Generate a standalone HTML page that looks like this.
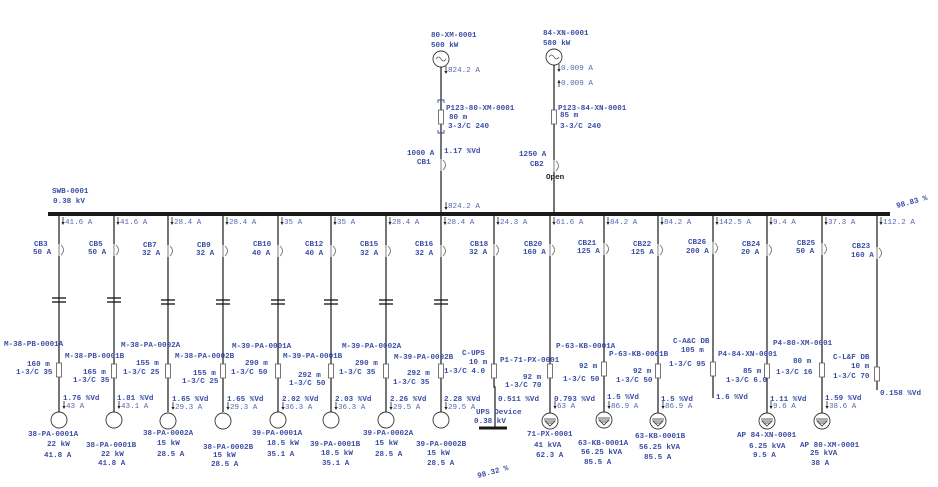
<!DOCTYPE html>
<html><head><meta charset="utf-8"><style>
body{margin:0;background:#fff}
svg{display:block}
text{font-family:"Liberation Mono",monospace;font-size:7.6px;font-weight:bold;fill:#3b4ea6}
text.i{font-weight:normal;fill:#5566b0}
text.k{fill:#222}
.l{stroke:#1a1a1a;stroke-width:1.2;fill:none}
.a{stroke:#666;stroke-width:0.8;fill:none}
.c{stroke:#333;stroke-width:0.9;fill:#fff}
</style></head><body>
<svg width="938" height="487" viewBox="0 0 938 487" xmlns="http://www.w3.org/2000/svg">
<defs>
<g id="cb"><line x1="0" y1="-6" x2="0" y2="6" stroke="#bbb" stroke-width="1.6"/><path d="M2,-5 q5,5 0,10" class="a"/></g>
<g id="ar"><line x1="0" y1="-4" x2="0" y2="3" stroke="#222" stroke-width="0.8"/><path d="M-1.6,1 L0,4 L1.6,1z" fill="#222"/></g>
<g id="ct"><line x1="-7" y1="-2" x2="7" y2="-2" stroke="#111" stroke-width="1.3"/><line x1="-7" y1="2" x2="7" y2="2" stroke="#111" stroke-width="1.3"/></g>
<g id="cab"><rect x="-2.5" y="-7" width="5" height="14" fill="#fff" stroke="#555" stroke-width="0.8"/></g>
<g id="m"><circle r="8" class="c"/></g>
<g id="ld"><circle r="8" class="c"/><line x1="-6" y1="-2" x2="6" y2="-2" stroke="#333" stroke-width="0.8"/><path d="M-5,0 L5,0 L0,5z" fill="none" stroke="#333" stroke-width="0.8"/><line x1="-3" y1="2" x2="3" y2="2" stroke="#333" stroke-width="0.8"/></g>
</defs>

<!-- bus -->
<line x1="48" y1="214" x2="890" y2="214" stroke="#1a1a1a" stroke-width="4"/>
<text x="52" y="193">SWB-0001</text><text x="53" y="203">0.38 kV</text>
<text x="897" y="208" transform="rotate(-15 897 208)">98.83 %</text>
<text x="478" y="478" transform="rotate(-15 478 478)">98.32 %</text>

<!-- gen 1 -->
<line x1="441" y1="67" x2="441" y2="214" class="l"/>
<circle cx="441" cy="59" r="8" class="c"/><path d="M436,59 q2.5,-4 5,0 q2.5,4 5,0" class="a" stroke="#333"/>
<text x="431" y="37">80-XM-0001</text><text x="431" y="47">500 kW</text>
<use href="#ar" x="446" y="70"/><text class="i" x="448" y="72">824.2 A</text>
<path d="M438,103 v-3 h6 v3 M438,130 v3 h6 v-3" stroke="#3b4ea6" stroke-width="0.9" fill="none"/>
<use href="#cab" x="441" y="117"/>
<text x="446" y="110">P123-80-XM-0001</text><text x="449" y="119">80 m</text><text x="448" y="128">3-3/C 240</text>
<text x="444" y="153">1.17 %Vd</text><text x="407" y="155">1000 A</text><text x="417" y="164">CB1</text>
<use href="#cb" x="441" y="165"/>
<use href="#ar" x="446" y="206"/><text class="i" x="448" y="208">824.2 A</text>

<!-- gen 2 -->
<line x1="554" y1="65" x2="554" y2="214" class="l"/>
<circle cx="554" cy="57" r="8" class="c"/><path d="M549,57 q2.5,-4 5,0 q2.5,4 5,0" class="a" stroke="#333"/>
<text x="543" y="35">84-XN-0001</text><text x="543" y="45">580 kW</text>
<use href="#ar" x="559" y="68"/><text class="i" x="561" y="70">0.009 A</text>
<line x1="559" y1="80" x2="559" y2="87" stroke="#222" stroke-width="0.8"/><path d="M557.4,83 L559,80 L560.6,83z" fill="#222"/><text class="i" x="561" y="85">0.009 A</text>
<use href="#cab" x="554" y="117"/>
<text x="558" y="110">P123-84-XN-0001</text><text x="560" y="117">85 m</text><text x="560" y="128">3-3/C 240</text>
<text x="519" y="156">1250 A</text><text x="530" y="166">CB2</text>
<use href="#cb" x="554" y="166"/>
<text class="k" x="546" y="179">Open</text>

<!-- feeders: lines -->
<g class="l">
<line x1="59" y1="214" x2="59" y2="412"/><line x1="114" y1="214" x2="114" y2="412"/>
<line x1="168" y1="214" x2="168" y2="412"/><line x1="223" y1="214" x2="223" y2="412"/>
<line x1="278" y1="214" x2="278" y2="412"/><line x1="331" y1="214" x2="331" y2="412"/>
<line x1="386" y1="214" x2="386" y2="412"/><line x1="441" y1="214" x2="441" y2="412"/>
<path d="M494,214 V387 H495 V428"/><line x1="550" y1="214" x2="550" y2="413"/>
<line x1="604" y1="214" x2="604" y2="413"/><line x1="658" y1="214" x2="658" y2="413"/>
<line x1="713" y1="214" x2="713" y2="398"/><line x1="767" y1="214" x2="767" y2="413"/>
<line x1="822" y1="214" x2="822" y2="413"/><line x1="877" y1="214" x2="877" y2="390"/>
</g>
<line x1="479" y1="428" x2="507" y2="428" stroke="#1a1a1a" stroke-width="3"/>

<!-- bus currents -->
<g>
<use href="#ar" x="63" y="221"/><text class="i" x="65" y="224">41.6 A</text>
<use href="#ar" x="118" y="221"/><text class="i" x="120" y="224">41.6 A</text>
<use href="#ar" x="172" y="221"/><text class="i" x="174" y="224">28.4 A</text>
<use href="#ar" x="227" y="221"/><text class="i" x="229" y="224">28.4 A</text>
<use href="#ar" x="282" y="221"/><text class="i" x="284" y="224">35 A</text>
<use href="#ar" x="335" y="221"/><text class="i" x="337" y="224">35 A</text>
<use href="#ar" x="390" y="221"/><text class="i" x="392" y="224">28.4 A</text>
<use href="#ar" x="445" y="221"/><text class="i" x="447" y="224">28.4 A</text>
<use href="#ar" x="498" y="221"/><text class="i" x="500" y="224">24.3 A</text>
<use href="#ar" x="554" y="221"/><text class="i" x="556" y="224">61.6 A</text>
<use href="#ar" x="608" y="221"/><text class="i" x="610" y="224">84.2 A</text>
<use href="#ar" x="662" y="221"/><text class="i" x="664" y="224">84.2 A</text>
<use href="#ar" x="717" y="221"/><text class="i" x="719" y="224">142.5 A</text>
<use href="#ar" x="771" y="221"/><text class="i" x="773" y="224">9.4 A</text>
<use href="#ar" x="826" y="221"/><text class="i" x="828" y="224">37.3 A</text>
<use href="#ar" x="881" y="221"/><text class="i" x="883" y="224">112.2 A</text>
</g>

<!-- CBs -->
<use href="#cb" x="59" y="250"/><text x="34" y="246">CB3</text><text x="33" y="254">50 A</text>
<use href="#cb" x="114" y="250"/><text x="89" y="246">CB5</text><text x="88" y="254">50 A</text>
<use href="#cb" x="168" y="251"/><text x="143" y="247">CB7</text><text x="142" y="255">32 A</text>
<use href="#cb" x="223" y="251"/><text x="197" y="247">CB9</text><text x="196" y="255">32 A</text>
<use href="#cb" x="278" y="251"/><text x="253" y="246">CB10</text><text x="252" y="255">40 A</text>
<use href="#cb" x="331" y="251"/><text x="305" y="246">CB12</text><text x="305" y="255">40 A</text>
<use href="#cb" x="386" y="251"/><text x="360" y="246">CB15</text><text x="360" y="255">32 A</text>
<use href="#cb" x="441" y="251"/><text x="415" y="246">CB16</text><text x="415" y="255">32 A</text>
<use href="#cb" x="494" y="250"/><text x="470" y="246">CB18</text><text x="469" y="254">32 A</text>
<use href="#cb" x="550" y="250"/><text x="524" y="246">CB20</text><text x="523" y="254">160 A</text>
<use href="#cb" x="604" y="249"/><text x="578" y="245">CB21</text><text x="577" y="253">125 A</text>
<use href="#cb" x="658" y="250"/><text x="633" y="246">CB22</text><text x="631" y="254">125 A</text>
<use href="#cb" x="713" y="248"/><text x="688" y="244">CB26</text><text x="686" y="253">200 A</text>
<use href="#cb" x="767" y="250"/><text x="742" y="246">CB24</text><text x="741" y="254">20 A</text>
<use href="#cb" x="822" y="249"/><text x="797" y="245">CB25</text><text x="796" y="253">50 A</text>
<use href="#cb" x="877" y="253"/><text x="852" y="248">CB23</text><text x="851" y="257">160 A</text>

<!-- contactors -->
<use href="#ct" x="59" y="300"/><use href="#ct" x="114" y="300"/><use href="#ct" x="168" y="302"/><use href="#ct" x="223" y="302"/>
<use href="#ct" x="278" y="302"/><use href="#ct" x="331" y="302"/><use href="#ct" x="386" y="302"/><use href="#ct" x="441" y="302"/>

<!-- cables -->
<use href="#cab" x="59" y="370"/><use href="#cab" x="114" y="371"/><use href="#cab" x="168" y="371"/><use href="#cab" x="223" y="371"/>
<use href="#cab" x="278" y="371"/><use href="#cab" x="331" y="371"/><use href="#cab" x="386" y="371"/><use href="#cab" x="441" y="371"/>
<use href="#cab" x="494" y="371"/><use href="#cab" x="550" y="371"/><use href="#cab" x="604" y="369"/><use href="#cab" x="658" y="371"/>
<use href="#cab" x="713" y="369"/><use href="#cab" x="767" y="371"/><use href="#cab" x="822" y="370"/><use href="#cab" x="877" y="374"/>

<!-- cable labels -->
<text x="4" y="346">M-38-PB-0001A</text><text x="27" y="366">160 m</text><text x="16" y="374">1-3/C 35</text>
<text x="65" y="358">M-38-PB-0001B</text><text x="83" y="374">165 m</text><text x="73" y="382">1-3/C 35</text>
<text x="121" y="347">M-38-PA-0002A</text><text x="136" y="365">155 m</text><text x="123" y="374">1-3/C 25</text>
<text x="175" y="358">M-38-PA-0002B</text><text x="193" y="375">155 m</text><text x="182" y="383">1-3/C 25</text>
<text x="232" y="348">M-39-PA-0001A</text><text x="245" y="365">290 m</text><text x="231" y="374">1-3/C 50</text>
<text x="283" y="358">M-39-PA-0001B</text><text x="298" y="377">292 m</text><text x="289" y="385">1-3/C 50</text>
<text x="342" y="348">M-39-PA-0002A</text><text x="355" y="365">290 m</text><text x="339" y="374">1-3/C 35</text>
<text x="394" y="359">M-39-PA-0002B</text><text x="407" y="375">292 m</text><text x="393" y="384">1-3/C 35</text>
<text x="462" y="355">C-UPS</text><text x="469" y="364">10 m</text><text x="444" y="373">1-3/C 4.0</text>
<text x="500" y="362">P1-71-PX-0001</text><text x="523" y="379">92 m</text><text x="505" y="387">1-3/C 70</text>
<text x="556" y="348">P-63-KB-0001A</text><text x="579" y="368">92 m</text><text x="563" y="381">1-3/C 50</text>
<text x="609" y="356">P-63-KB-0001B</text><text x="633" y="373">92 m</text><text x="616" y="382">1-3/C 50</text>
<text x="673" y="343">C-A&amp;C DB</text><text x="681" y="352">105 m</text><text x="669" y="366">1-3/C 95</text>
<text x="718" y="356">P4-84-XN-0001</text><text x="743" y="373">85 m</text><text x="726" y="382">1-3/C 6.0</text>
<text x="773" y="345">P4-80-XM-0001</text><text x="793" y="363">80 m</text><text x="776" y="374">1-3/C 16</text>
<text x="833" y="359">C-L&amp;F DB</text><text x="851" y="368">10 m</text><text x="833" y="378">1-3/C 70</text>

<!-- Vd / load currents -->
<text x="63" y="400">1.76 %Vd</text><use href="#ar" x="64" y="405"/><text class="i" x="66" y="408">43 A</text>
<text x="117" y="400">1.81 %Vd</text><use href="#ar" x="119" y="405"/><text class="i" x="121" y="408">43.1 A</text>
<text x="172" y="401">1.65 %Vd</text><use href="#ar" x="173" y="406"/><text class="i" x="175" y="409">29.3 A</text>
<text x="227" y="401">1.65 %Vd</text><use href="#ar" x="228" y="406"/><text class="i" x="230" y="409">29.3 A</text>
<text x="282" y="401">2.02 %Vd</text><use href="#ar" x="283" y="406"/><text class="i" x="285" y="409">36.3 A</text>
<text x="335" y="401">2.03 %Vd</text><use href="#ar" x="336" y="406"/><text class="i" x="338" y="409">36.3 A</text>
<text x="390" y="401">2.26 %Vd</text><use href="#ar" x="391" y="406"/><text class="i" x="393" y="409">29.5 A</text>
<text x="444" y="401">2.28 %Vd</text><use href="#ar" x="446" y="406"/><text class="i" x="448" y="409">29.5 A</text>
<text x="498" y="401">0.511 %Vd</text><text x="476" y="414">UPS Device</text><text x="474" y="423">0.38 kV</text>
<text x="554" y="401">0.793 %Vd</text><use href="#ar" x="555" y="405"/><text class="i" x="557" y="408">63 A</text>
<text x="607" y="399">1.5 %Vd</text><use href="#ar" x="609" y="405"/><text class="i" x="611" y="408">86.9 A</text>
<text x="661" y="401">1.5 %Vd</text><use href="#ar" x="663" y="405"/><text class="i" x="665" y="408">86.9 A</text>
<text x="716" y="399">1.6 %Vd</text>
<text x="770" y="401">1.11 %Vd</text><use href="#ar" x="771" y="405"/><text class="i" x="773" y="408">9.6 A</text>
<text x="825" y="400">1.59 %Vd</text><use href="#ar" x="827" y="405"/><text class="i" x="829" y="408">38.6 A</text>
<text x="880" y="395">0.158 %Vd</text>

<!-- loads -->
<use href="#m" x="59" y="420"/><use href="#m" x="114" y="420"/><use href="#m" x="168" y="421"/><use href="#m" x="223" y="421"/>
<use href="#m" x="278" y="420"/><use href="#m" x="331" y="420"/><use href="#m" x="386" y="420"/><use href="#m" x="441" y="420"/>
<use href="#ld" x="550" y="421"/><use href="#ld" x="604" y="420"/><use href="#ld" x="658" y="421"/><use href="#ld" x="767" y="421"/><use href="#ld" x="822" y="421"/>

<text x="28" y="436">38-PA-0001A</text><text x="47" y="446">22 kW</text><text x="44" y="457">41.8 A</text>
<text x="86" y="447">38-PA-0001B</text><text x="101" y="456">22 kW</text><text x="98" y="465">41.8 A</text>
<text x="143" y="435">38-PA-0002A</text><text x="157" y="445">15 kW</text><text x="157" y="456">28.5 A</text>
<text x="203" y="449">38-PA-0002B</text><text x="213" y="457">15 kW</text><text x="211" y="466">28.5 A</text>
<text x="252" y="435">39-PA-0001A</text><text x="267" y="445">18.5 kW</text><text x="267" y="456">35.1 A</text>
<text x="310" y="446">39-PA-0001B</text><text x="321" y="455">18.5 kW</text><text x="322" y="465">35.1 A</text>
<text x="363" y="435">39-PA-0002A</text><text x="375" y="445">15 kW</text><text x="375" y="456">28.5 A</text>
<text x="416" y="446">39-PA-0002B</text><text x="427" y="455">15 kW</text><text x="427" y="465">28.5 A</text>
<text x="527" y="436">71-PX-0001</text><text x="534" y="447">41 kVA</text><text x="536" y="457">62.3 A</text>
<text x="578" y="445">63-KB-0001A</text><text x="581" y="454">56.25 kVA</text><text x="584" y="464">85.5 A</text>
<text x="635" y="438">63-KB-0001B</text><text x="639" y="449">56.25 kVA</text><text x="644" y="459">85.5 A</text>
<text x="737" y="437">AP 84-XN-0001</text><text x="749" y="448">6.25 kVA</text><text x="753" y="457">9.5 A</text>
<text x="800" y="447">AP 80-XM-0001</text><text x="810" y="455">25 kVA</text><text x="811" y="465">38 A</text>
</svg>
</body></html>
